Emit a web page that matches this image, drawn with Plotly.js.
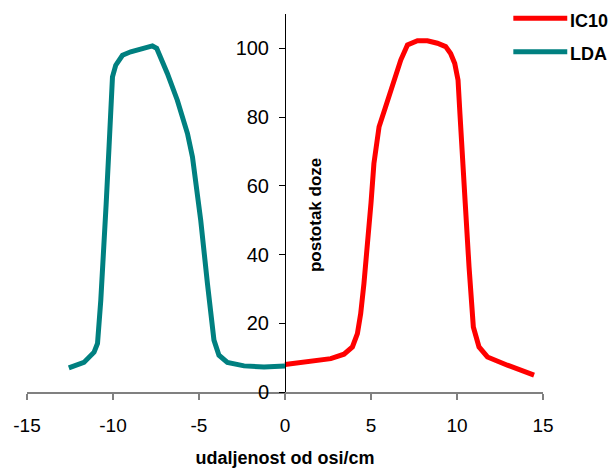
<!DOCTYPE html>
<html>
<head>
<meta charset="utf-8">
<script src="https://cdn.plot.ly/plotly-3.0.1.min.js"></script>
<style>
  html, body { margin: 0; padding: 0; background: #fff; }
  #chart { width: 616px; height: 472px; }
</style>
</head>
<body>
<div id="chart"></div>
<script>
// LDA profile (distance from axis in cm, percent dose)
const ldaX = [-12.57, -11.69, -11.1, -10.9, -10.71, -10.52, -10.4, -10.23, -10.03, -9.84, -9.45, -8.97, -8.2, -7.71, -7.46, -6.84, -6.26, -5.67, -5.38, -5.09, -4.96, -4.9, -4.51, -4.13, -3.84, -3.35, -2.38, -1.22, 0.0];
const ldaY = [7.0, 8.6, 11.6, 14.1, 26.7, 41.3, 54.5, 71.3, 91.7, 95.1, 98.0, 99.0, 100.0, 100.7, 100.0, 92.7, 84.9, 75.2, 68.4, 58.7, 52.9, 50.0, 31.6, 15.1, 10.7, 8.6, 7.6, 7.3, 7.6];

// IC10 profile
const icX = [0.0, 1.69, 2.66, 3.43, 3.92, 4.21, 4.4, 4.59, 4.83, 5.0, 5.17, 5.47, 5.85, 6.34, 6.73, 7.12, 7.7, 8.28, 8.86, 9.34, 9.63, 9.87, 10.06, 10.17, 10.31, 10.48, 10.7, 10.95, 11.28, 11.77, 12.93, 14.48];
const icY = [8.0, 8.9, 9.7, 11.0, 13.1, 17.0, 22.8, 31.6, 44.2, 55.0, 66.5, 77.2, 83.0, 90.8, 96.6, 101.0, 102.2, 102.2, 101.5, 100.5, 98.5, 95.6, 90.8, 81.1, 66.5, 54.8, 36.4, 18.9, 13.1, 10.2, 7.8, 4.9];

const seriesNames = ["IC10", "LDA"];
const seriesColors = ["#FF0000", "#008080"];
const xTicks = [-15, -10, -5, 0, 5, 10, 15];
const yTicks = [0, 20, 40, 60, 80, 100];
const xTitle = "udaljenost od osi/cm";
const yTitle = "postotak doze";

const FONT = "Liberation Sans, Arial, sans-serif";

const traces = [
  { x: icX, y: icY, name: seriesNames[0], type: "scatter", mode: "lines",
    line: { color: seriesColors[0], width: 5 }, showlegend: false },
  { x: ldaX, y: ldaY, name: seriesNames[1], type: "scatter", mode: "lines",
    line: { color: seriesColors[1], width: 5 }, showlegend: false }
];

// manual legend (line sample + label) in paper coordinates
const legY = [0.9886, 0.9003];
const shapes = [];
const annotations = [];
seriesNames.forEach((n, i) => {
  shapes.push({ type: "line", xref: "paper", yref: "paper",
    x0: 0.9425, x1: 1.047, y0: legY[i], y1: legY[i],
    line: { color: seriesColors[i], width: 5 } });
  annotations.push({ xref: "paper", yref: "paper", x: 1.049, y: legY[i] - 0.006,
    xanchor: "left", yanchor: "middle", showarrow: false, text: n,
    font: { family: FONT, size: 18, color: "#000", weight: "bold" } });
});
// y-axis title drawn right of the central axis
annotations.push({ xref: "x", yref: "y", x: 0, y: 51.5, xshift: 30,
  xanchor: "center", yanchor: "middle", textangle: -90, showarrow: false,
  text: yTitle, font: { family: FONT, size: 17, color: "#000", weight: "bold" } });

const layout = {
  width: 616, height: 472,
  margin: { l: 27, r: 73, t: 14, b: 80, pad: 0 },
  paper_bgcolor: "#fff", plot_bgcolor: "#fff",
  font: { family: FONT, color: "#000" },
  showlegend: false,
  xaxis: {
    range: [-15, 15], tickvals: xTicks, ticktext: xTicks.map(String),
    showgrid: false, zeroline: false, showline: true, linecolor: "#808080", linewidth: 2,
    ticks: "outside", ticklen: 6, tickcolor: "#808080", tickwidth: 1.5,
    ticklabelstandoff: 9,
    tickfont: { family: FONT, size: 19, color: "#000" },
    anchor: "y",
    title: { text: xTitle, standoff: 17, font: { family: FONT, size: 18, color: "#000", weight: "bold" } },
    automargin: false, fixedrange: true
  },
  yaxis: {
    range: [0, 110], tickvals: yTicks, ticktext: yTicks.map(String),
    showgrid: false, zeroline: false, showline: true, linecolor: "#000", linewidth: 1,
    ticks: "outside", ticklen: 6, tickcolor: "#000", tickwidth: 1,
    ticklabelstandoff: 6,
    tickfont: { family: FONT, size: 20, color: "#000" },
    anchor: "free", position: 0.5, side: "left",
    automargin: false, fixedrange: true
  },
  shapes: shapes,
  annotations: annotations
};

Plotly.newPlot("chart", traces, layout, { displayModeBar: false, staticPlot: true });
</script>
</body>
</html>
